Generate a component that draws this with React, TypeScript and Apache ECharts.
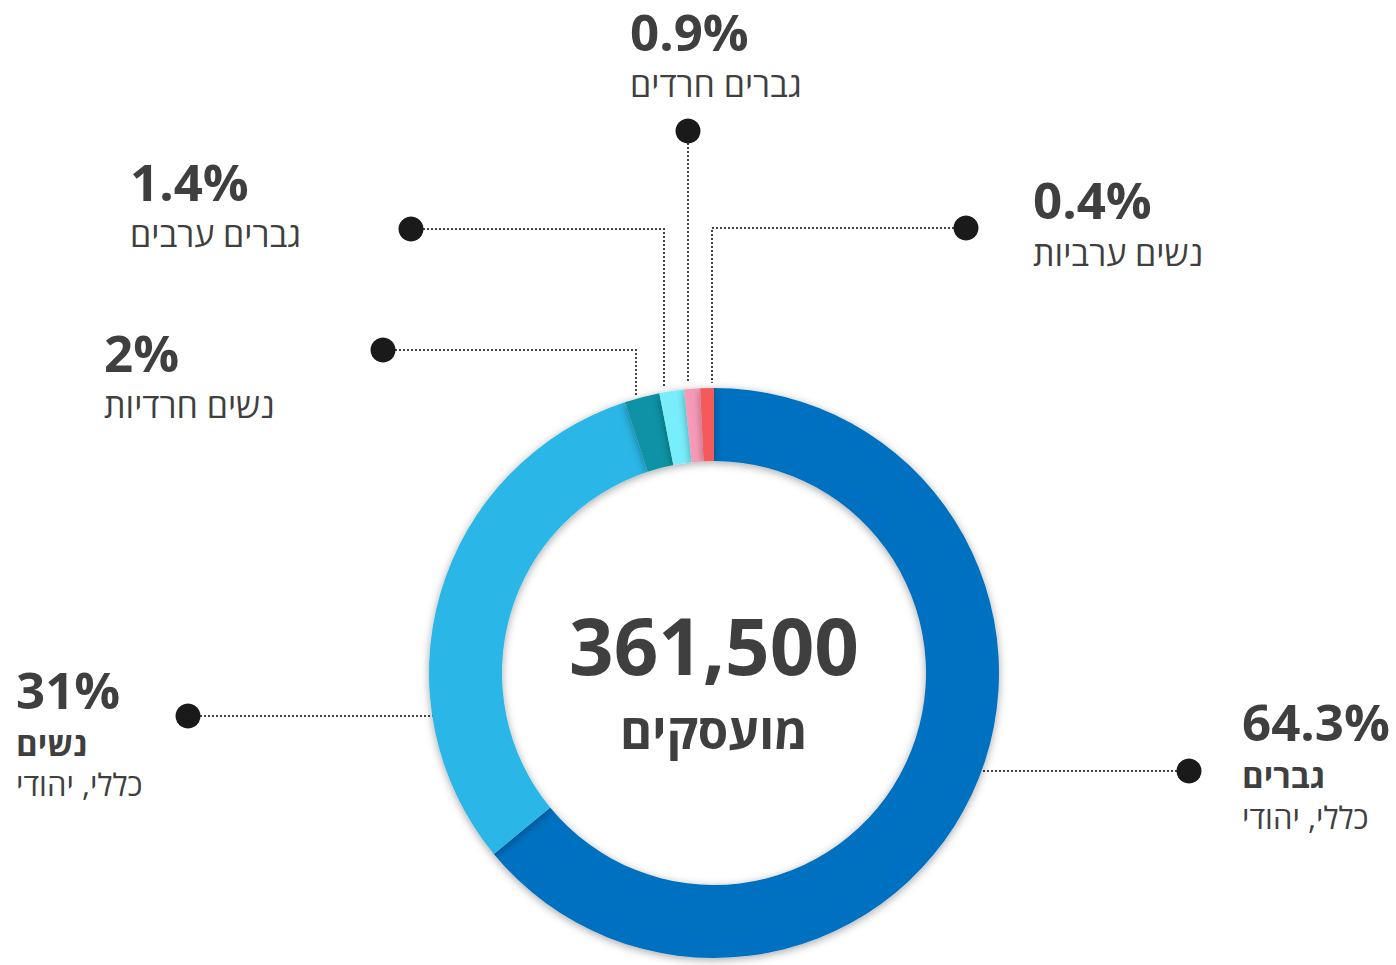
import React, { useEffect, useRef } from "react";
import * as echarts from "echarts";

const categories = [
  "גברים כללי, יהודי",
  "נשים כללי, יהודי",
  "נשים חרדיות",
  "גברים ערבים",
  "גברים חרדים",
  "נשים ערביות",
];
const values = [64.3, 31, 2, 1.4, 0.9, 0.4];
const colors = ["#0070c0", "#2bb6e6", "#0e93a5", "#78eefc", "#f79ab8", "#f55a5a"];
const percentLabels = ["64.3%", "31%", "2%", "1.4%", "0.9%", "0.4%"];
const boldLabels = ["גברים", "נשים", "", "", "", ""];
const subLabels = ["כללי, יהודי", "כללי, יהודי", "נשים חרדיות", "גברים ערבים", "גברים חרדים", "נשים ערביות"];
const totalLabel = "361,500";
const totalCaption = "מועסקים";

const FONT = "'Open Sans', 'Noto Sans', 'DejaVu Sans', sans-serif";
const TEXT = "#3f3f3f";
const DOT = "#1a1a1a";

const layout: { x: number; py: number; by: number; sy: number; ss: number; dot: [number, number]; path: number[][] }[] = [
  { x: 1242, py: 721, by: 775, sy: 817, ss: 31, dot: [1189, 771], path: [[1189, 771], [983, 771]] },
  { x: 16, py: 689, by: 743, sy: 784, ss: 31, dot: [188, 716], path: [[188, 716], [433, 716]] },
  { x: 104, py: 352, by: 0, sy: 405, ss: 34, dot: [383, 350], path: [[383, 350], [636, 350], [636, 395]] },
  { x: 130, py: 181, by: 0, sy: 234, ss: 34, dot: [411, 229], path: [[411, 229], [664, 229], [664, 386]] },
  { x: 630, py: 31, by: 0, sy: 84, ss: 34, dot: [688, 131], path: [[688, 131], [688, 383]] },
  { x: 1033, py: 199, by: 0, sy: 253, ss: 34, dot: [966, 228], path: [[966, 228], [712, 228], [712, 383]] },
];

export default function App() {
  const ref = useRef<HTMLDivElement>(null);
  useEffect(() => {
    document.body.style.margin = "0";
    const chart = echarts.init(ref.current!, null, { renderer: "svg" });
    const graphics: any[] = [];
    layout.forEach((l, i) => {
      graphics.push({
        type: "polyline",
        shape: { points: l.path },
        style: { stroke: "#444", lineWidth: 2, lineDash: [2, 2], fill: null },
        z: 1,
      });
      graphics.push({
        type: "circle",
        shape: { cx: l.dot[0], cy: l.dot[1], r: 12.5 },
        style: { fill: DOT },
        z: 2,
      });
      graphics.push({
        type: "text",
        x: l.x,
        y: l.py,
        style: {
          text: percentLabels[i],
          font: `bold 51px ${FONT}`,
          fill: TEXT,
          align: "left",
          verticalAlign: "middle",
        },
      });
      if (boldLabels[i]) {
        graphics.push({
          type: "text",
          x: l.x,
          y: l.by,
          style: {
            text: boldLabels[i],
            font: `bold 33px ${FONT}`,
            fill: TEXT,
            align: "left",
            verticalAlign: "middle",
          },
        });
      }
      graphics.push({
        type: "text",
        x: l.x,
        y: l.sy,
        style: {
          text: subLabels[i],
          font: `${l.ss}px ${FONT}`,
          fill: TEXT,
          align: "left",
          verticalAlign: "middle",
        },
      });
    });
    graphics.push({
      type: "text",
      x: 714,
      y: 645,
      style: {
        text: totalLabel,
        font: `bold 78px ${FONT}`,
        fill: TEXT,
        align: "center",
        verticalAlign: "middle",
      },
    });
    graphics.push({
      type: "text",
      x: 714,
      y: 730,
      style: {
        text: totalCaption,
        font: `bold 49px ${FONT}`,
        fill: TEXT,
        align: "center",
        verticalAlign: "middle",
      },
    });

    chart.setOption({
      animation: false,
      backgroundColor: "#ffffff",
      series: [
        {
          type: "pie",
          center: [714, 673],
          radius: [212, 285],
          startAngle: 90,
          clockwise: true,
          minAngle: 2.8,
          label: { show: false },
          labelLine: { show: false },
          emphasis: { disabled: true },
          itemStyle: {
            shadowBlur: 8,
            shadowColor: "rgba(0,0,0,0.35)",
            shadowOffsetX: 0,
            shadowOffsetY: 2,
          },
          data: categories.map((name, i) => ({
            name,
            value: values[i],
            itemStyle: { color: colors[i] },
          })),
          z: 3,
        },
      ],
      graphic: graphics,
    });
    return () => chart.dispose();
  }, []);
  return <div ref={ref} style={{ width: 1396, height: 965 }} />;
}
